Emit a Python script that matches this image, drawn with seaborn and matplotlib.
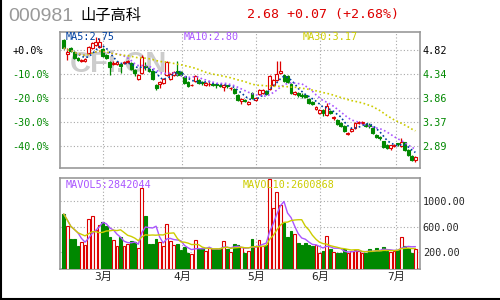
import numpy as np
import pandas as pd
import matplotlib
matplotlib.use("Agg")
import matplotlib.pyplot as plt
import seaborn as sns
from matplotlib.lines import Line2D

# daily candles
opens = [5.02, 4.74, 4.86, 4.78, 4.66, 4.60, 4.60, 4.76, 4.86, 4.92,
         4.88, 4.84, 4.72, 4.58, 4.54, 4.54, 4.54, 4.56, 4.57, 4.56,
         4.42, 4.24, 4.36, 4.50, 4.44, 4.40, 4.12, 4.14, 4.16, 4.32,
         4.24, 4.32, 4.40, 4.38, 4.28, 4.18, 4.11, 4.20, 4.22, 4.17,
         4.12, 4.13, 4.14, 4.13, 4.12, 4.08, 4.11, 4.05, 4.04, 3.92,
         3.80, 3.81, 3.74, 3.96, 3.82, 3.94, 3.96, 4.00, 4.04, 4.12,
         4.22, 4.36, 4.32, 4.30, 4.14, 3.94, 3.96, 3.91, 3.92, 3.84,
         3.78, 3.64, 3.56, 3.62, 3.52, 3.60, 3.46, 3.42, 3.36, 3.30,
         3.14, 3.20, 3.26, 3.36, 3.35, 3.34, 3.31, 3.26, 3.12, 3.07,
         2.99, 2.91, 2.86, 2.90, 2.94, 2.90, 2.97, 2.82, 2.70, 2.62]
closes = [4.86, 4.78, 4.80, 4.66, 4.62, 4.62, 4.63, 4.88, 4.96, 4.98,
          4.98, 4.70, 4.66, 4.48, 4.56, 4.57, 4.50, 4.58, 4.59, 4.44,
          4.36, 4.32, 4.68, 4.48, 4.40, 4.24, 4.06, 4.18, 4.24, 4.58,
          4.34, 4.38, 4.32, 4.32, 4.16, 4.10, 4.12, 4.30, 4.16, 4.15,
          4.16, 4.14, 4.12, 4.12, 4.10, 4.12, 4.10, 4.06, 3.96, 3.82,
          3.84, 3.80, 3.78, 3.86, 3.86, 4.02, 4.02, 3.94, 4.30, 4.22,
          4.34, 4.40, 4.20, 4.18, 3.96, 3.98, 3.92, 3.90, 3.88, 3.76,
          3.74, 3.68, 3.62, 3.56, 3.70, 3.56, 3.48, 3.34, 3.30, 3.20,
          3.16, 3.24, 3.36, 3.38, 3.37, 3.30, 3.29, 3.16, 3.08, 3.05,
          2.88, 2.85, 2.91, 2.91, 2.93, 2.98, 2.82, 2.72, 2.61, 2.68]
highs = [5.04, 4.86, 4.88, 4.80, 4.68, 4.64, 4.66, 4.90, 4.98, 5.08,
         5.06, 4.86, 4.74, 4.60, 4.60, 4.60, 4.56, 4.60, 4.62, 4.58,
         4.44, 4.34, 4.72, 4.58, 4.46, 4.42, 4.14, 4.20, 4.26, 4.60,
         4.36, 4.40, 4.60, 4.40, 4.30, 4.20, 4.14, 4.32, 4.24, 4.20,
         4.18, 4.18, 4.16, 4.15, 4.14, 4.14, 4.12, 4.08, 4.06, 3.94,
         3.86, 3.84, 3.80, 3.98, 3.88, 4.04, 4.04, 4.02, 4.32, 4.24,
         4.60, 4.60, 4.34, 4.32, 4.16, 4.00, 3.98, 3.96, 3.94, 3.86,
         3.80, 3.70, 3.64, 3.64, 3.76, 3.62, 3.50, 3.44, 3.38, 3.32,
         3.18, 3.26, 3.38, 3.40, 3.40, 3.36, 3.36, 3.28, 3.14, 3.10,
         3.00, 2.93, 2.92, 2.94, 2.96, 3.06, 2.98, 2.84, 2.72, 2.70]
lows = [4.84, 4.62, 4.78, 4.64, 4.60, 4.58, 4.58, 4.74, 4.84, 4.90,
        4.86, 4.68, 4.64, 4.32, 4.52, 4.52, 4.36, 4.54, 4.55, 4.42,
        4.30, 4.22, 4.34, 4.42, 4.38, 4.22, 4.02, 4.06, 4.14, 4.30,
        4.22, 4.30, 4.30, 4.30, 4.14, 4.08, 4.10, 4.18, 4.14, 4.12,
        4.10, 4.10, 4.10, 4.06, 4.08, 4.00, 4.06, 4.02, 3.94, 3.80,
        3.74, 3.78, 3.72, 3.84, 3.80, 3.92, 3.94, 3.92, 4.02, 4.10,
        4.20, 4.34, 4.18, 4.16, 3.94, 3.92, 3.88, 3.86, 3.86, 3.74,
        3.72, 3.62, 3.54, 3.50, 3.50, 3.54, 3.42, 3.32, 3.28, 3.18,
        3.12, 3.18, 3.24, 3.34, 3.33, 3.28, 3.26, 3.14, 3.06, 3.02,
        2.86, 2.83, 2.82, 2.88, 2.90, 2.88, 2.80, 2.70, 2.60, 2.58]
volumes = [797, 608, 404, 404, 294, 357, 310, 718, 765, 545,
           624, 671, 608, 435, 388, 294, 435, 294, 325, 373,
           357, 263, 1205, 765, 325, 325, 404, 357, 294, 640,
           373, 310, 325, 231, 278, 184, 169, 388, 247, 263,
           216, 263, 247, 247, 263, 373, 247, 200, 325, 310,
           278, 184, 216, 404, 294, 388, 294, 310, 1340, 891,
           1142, 938, 655, 435, 530, 483, 341, 310, 341, 310,
           294, 310, 184, 216, 451, 247, 200, 184, 184, 247,
           184, 216, 231, 216, 184, 184, 247, 216, 263, 216,
           278, 216, 200, 216, 231, 435, 294, 263, 184, 247]

base_price = 4.82
pct_ticks = [0, -10, -20, -30, -40]
pct_labels = ["+0.0%", "-10.0%", "-20.0%", "-30.0%", "-40.0%"]
vol_ticks = [200, 600, 1000]
month_pos = [11.1, 33.3, 54.2, 72.2, 93.6]
month_labels = ["3月", "4月", "5月", "6月", "7月"]

RED = "#dd0000"
GREEN = "#008800"
BLUE = "#0040a0"
PURPLE = "#aa55ff"
YELLOW = "#cccc00"
GRID = "#a8a8a8"
SPINE = "#999999"

df = pd.DataFrame({"open": opens, "close": closes, "high": highs,
                   "low": lows, "vol": volumes})
df["idx"] = np.arange(len(df))
df["up"] = df["close"] >= df["open"]
df["ma5"] = df["close"].rolling(5, min_periods=1).mean()
df["ma10"] = df["close"].rolling(10, min_periods=1).mean()
df["ma30"] = df["close"].rolling(30, min_periods=1).mean()
df["mav5"] = df["vol"].rolling(5, min_periods=1).mean()
df["mav10"] = df["vol"].rolling(10, min_periods=1).mean()

sns.set_style("white")
plt.rcParams["font.family"] = ["DejaVu Sans Mono", "Noto Sans CJK SC"]

fig = plt.figure(figsize=(5, 3), dpi=100)
fig.patch.set_facecolor("white")
ax = fig.add_axes([0.12, 0.44, 0.72, 0.4533])
axv = fig.add_axes([0.12, 0.1033, 0.72, 0.3033], sharex=ax)

xlim = (-1.05, 100.3)
price_lim = (2.45, 5.18)
vol_lim = (-67, 1361)

# price panel
colors = np.where(df["up"], RED, GREEN)
ax.vlines(df["idx"], df["low"], df["high"], colors=colors, lw=0.9, zorder=2)
body_bottom = np.minimum(df["open"], df["close"])
body_h = np.maximum((df["close"] - df["open"]).abs(), 0.012)
ax.bar(df["idx"], body_h, bottom=body_bottom, width=0.8,
       color=np.where(df["up"], "white", GREEN), edgecolor=colors,
       linewidth=0.8, zorder=3)

sns.lineplot(x=df["idx"], y=df["ma5"], ax=ax, color=BLUE, lw=1.2,
             linestyle=(0, (1, 1.5)), estimator=None, zorder=4)
sns.lineplot(x=df["idx"], y=df["ma10"], ax=ax, color=PURPLE, lw=1.2,
             linestyle=(0, (1, 1.5)), estimator=None, zorder=4)
sns.lineplot(x=df["idx"], y=df["ma30"], ax=ax, color=YELLOW, lw=1.2,
             linestyle=(0, (1, 1.5)), estimator=None, zorder=4)

price_ticks = [base_price * (1 + p / 100) for p in pct_ticks]
ax.set_xlim(xlim)
ax.set_ylim(price_lim)
ax.set_yticks(price_ticks)
ax.set_yticklabels(pct_labels)
ax.set_xticks(month_pos)
ax.tick_params(axis="x", labelbottom=False, length=0)
ax.tick_params(axis="y", length=0, pad=34.5, labelsize=7.3)
for i, lbl in enumerate(ax.get_yticklabels()):
    lbl.set_ha("left")
    lbl.set_color("black" if i == 0 else GREEN)
ax.grid(True, ls=(0, (1, 2)), color=GRID, lw=0.8)
ax.set_xlabel("")
ax.set_ylabel("")

axr = ax.twinx()
axr.set_ylim(price_lim)
axr.set_yticks(price_ticks)
axr.set_yticklabels([f"{p:.2f}" for p in price_ticks])
axr.tick_params(axis="y", length=0, pad=1.5, labelsize=7.3)
for i, lbl in enumerate(axr.get_yticklabels()):
    lbl.set_color("black" if i == 0 else GREEN)
for s in axr.spines.values():
    s.set_visible(False)

# watermark
ax.text(0.028, 0.765, "CFi.CN", transform=ax.transAxes, fontsize=21,
        fontweight="bold", color="#cccccc", family="Liberation Sans",
        va="center", ha="left", zorder=1)
ax.text(0.017, 0.963, "MA5:2.75", transform=ax.transAxes, color=BLUE,
        fontsize=7.3, va="center", zorder=5)
ax.text(0.344, 0.963, "MA10:2.80", transform=ax.transAxes, color=PURPLE,
        fontsize=7.3, va="center", zorder=5)
ax.text(0.675, 0.963, "MA30:3.17", transform=ax.transAxes, color=YELLOW,
        fontsize=7.3, va="center", zorder=5)

# volume panel
vol_floor = vol_lim[0]
axv.bar(df["idx"], df["vol"] - vol_floor, bottom=vol_floor, width=0.78,
        color=np.where(df["up"], "white", GREEN), edgecolor=colors,
        linewidth=0.8, zorder=3)
sns.lineplot(x=df["idx"], y=df["mav5"], ax=axv, color=PURPLE, lw=1.0,
             estimator=None, zorder=4)
sns.lineplot(x=df["idx"], y=df["mav10"], ax=axv, color=YELLOW, lw=1.0,
             estimator=None, zorder=4)
axv.set_ylim(vol_lim)
axv.set_xlim(xlim)
axv.yaxis.tick_right()
axv.set_yticks(vol_ticks)
axv.set_yticklabels([f"{v:.2f}" for v in vol_ticks])
axv.set_xticks(month_pos)
axv.set_xticklabels(month_labels)
axv.tick_params(axis="y", length=0, pad=2, labelsize=7.3, labelleft=False)
axv.tick_params(axis="x", length=0, pad=2, labelsize=8)
axv.grid(True, ls=(0, (1, 2)), color=GRID, lw=0.8)
axv.set_xlabel("")
axv.set_ylabel("")
axv.text(0.017, 0.923, "MAVOL5:2842044", transform=axv.transAxes,
         color=PURPLE, fontsize=7.3, va="center", zorder=5)
axv.text(0.508, 0.923, "MAVOL10:2600868", transform=axv.transAxes,
         color=YELLOW, fontsize=7.3, va="center", zorder=5)

for a in (ax, axv):
    for s in a.spines.values():
        s.set_visible(True)
        s.set_color(SPINE)
        s.set_linewidth(1.2)

# header
fig.text(0.016, 0.945, "000981", fontsize=14, color="#999999",
         family="Liberation Sans", va="center", ha="left")
fig.text(0.16, 0.95, "山子高科", fontsize=11, color="black",
         family=["Noto Sans CJK SC", "DejaVu Sans"], va="center", ha="left")
fig.text(0.494, 0.952, "2.68 +0.07 (+2.68%)", fontsize=9.5, color=RED,
         va="center", ha="left")

fig.add_artist(Line2D([0.001, 0.001], [0, 1], color="black", lw=1.5))
fig.add_artist(Line2D([0, 1], [0.003, 0.003], color="black", lw=1.5))

fig.savefig("out.png", dpi=100, facecolor="white")
